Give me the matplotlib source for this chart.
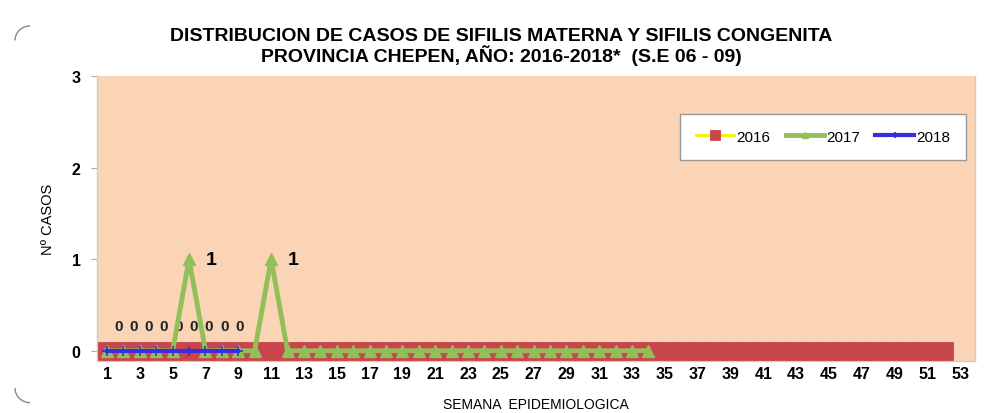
import numpy as np
import matplotlib.pyplot as plt
from matplotlib.patches import Arc

plt.rcParams['font.family'] = ['Liberation Sans', 'DejaVu Sans']

# Data (epidemiological weeks)
weeks_2016 = list(range(1, 53))
cases_2016 = [0] * 52
weeks_2017 = list(range(1, 35))
cases_2017 = [0, 0, 0, 0, 0, 1, 0, 0, 0, 0, 1] + [0] * 23
weeks_2018 = list(range(1, 10))
cases_2018 = [0] * 9
xtick_labels = [str(w) for w in range(1, 54, 2)]

fig = plt.figure(figsize=(10.02, 4.14), dpi=100)
ax = fig.add_axes([0.097, 0.126, 0.876, 0.688])
ax.set_facecolor('#fad4b5')

# Series
ax.plot(weeks_2016, cases_2016, color='#f2f200', lw=2, marker='s', ms=12.6,
        mfc='#c8464b', mec='#c8464b', mew=0.6, label='2016', zorder=3)
ax.plot(weeks_2017, cases_2017, color='#93bf59', lw=3.5, marker='^', ms=9,
        mfc='#93bf59', mec='#93bf59', label='2017', zorder=4)
ax.plot(weeks_2018, cases_2018, color='#3a2fd6', lw=3, marker='+', ms=7,
        mew=1.2, label='2018', zorder=5)

# Data labels
for w, v in zip(weeks_2017, cases_2017):
    if v > 0:
        ax.text(w + 1.35, v, str(v), fontsize=14, fontweight='bold',
                ha='center', va='center')
for i, v in enumerate(cases_2018):
    ax.text(1.7 + i * 0.92, v + 0.27, str(v), fontsize=11, fontweight='bold',
            ha='center', va='center', color='#222222')

ax.set_xlim(0.4, 53.9)
ax.set_ylim(-0.11, 3)
ax.set_yticks([0, 1, 2, 3])
ax.set_xticks(range(1, 54, 2))
ax.set_xticklabels(xtick_labels)
ax.tick_params(axis='x', length=0, pad=4, labelsize=11.5)
ax.tick_params(axis='y', length=4, color='#aaaaaa', pad=8, labelsize=11.5)
for lab in ax.get_xticklabels() + ax.get_yticklabels():
    lab.set_fontweight('bold')
ax.spines['top'].set_visible(False)
for s in ['left', 'right', 'bottom']:
    ax.spines[s].set_color('#cccccc')
    ax.spines[s].set_linewidth(1)

ax.set_xlabel('SEMANA  EPIDEMIOLOGICA', fontsize=10, labelpad=11)
ax.set_ylabel('Nº CASOS', fontsize=10.5, labelpad=12)

fig.text(0.5, 0.912, 'DISTRIBUCION DE CASOS DE SIFILIS MATERNA Y SIFILIS CONGENITA',
         ha='center', va='center', fontsize=14, fontweight='bold')
fig.text(0.5, 0.866, 'PROVINCIA CHEPEN, AÑO: 2016-2018*  (S.E 06 - 09)',
         ha='center', va='center', fontsize=14, fontweight='bold')

leg = ax.legend(loc='upper right', bbox_to_anchor=(0.9985, 0.895), ncol=3,
                frameon=True, fancybox=False, fontsize=11, handlelength=2.5,
                columnspacing=1.0, handletextpad=0.15, borderpad=1.05,
                markerscale=0.55, framealpha=1)
leg.get_frame().set_edgecolor('#999999')
leg.get_frame().set_facecolor('white')
leg.get_frame().set_linewidth(1)

# Chart-border corner arcs
fig.patches.append(Arc((0.03, 0.90), 0.03, 0.07, theta1=90, theta2=180,
                       transform=fig.transFigure, color='#888888', lw=1))
fig.patches.append(Arc((0.03, 0.06), 0.03, 0.07, theta1=180, theta2=270,
                       transform=fig.transFigure, color='#888888', lw=1))

fig.savefig('out.png', dpi=100)
